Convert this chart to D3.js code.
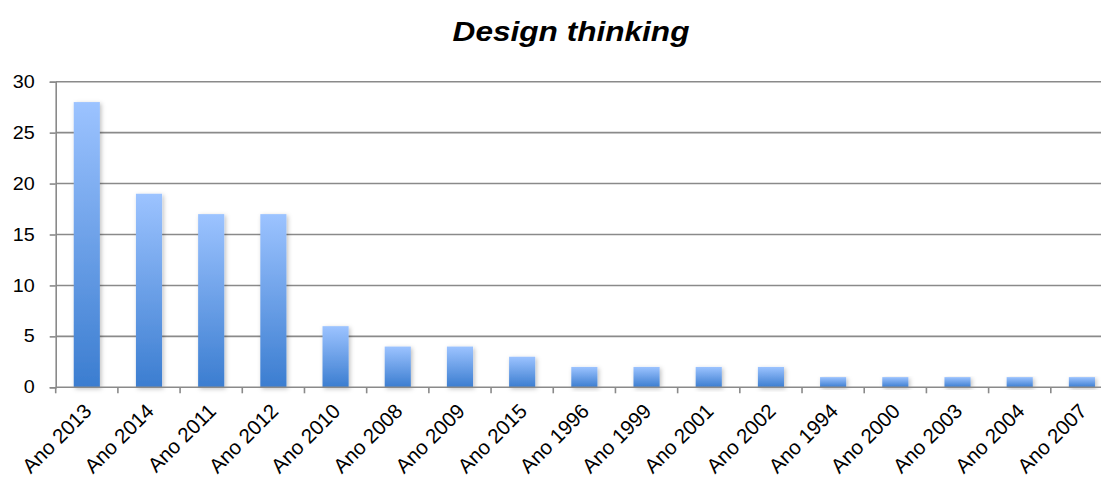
<!DOCTYPE html>
<html>
<head>
<meta charset="utf-8">
<script src="https://cdn.jsdelivr.net/npm/d3@7"></script>
<style>
  html, body { margin: 0; padding: 0; background: #fff; }
  svg { display: block; font-family: "Liberation Sans", Arial, sans-serif; }
</style>
</head>
<body>
<svg id="chart" width="1101" height="480"></svg>
<script>
// Publications per year on "Design thinking"
const categories = ["Ano 2013", "Ano 2014", "Ano 2011", "Ano 2012", "Ano 2010", "Ano 2008", "Ano 2009", "Ano 2015",
  "Ano 1996", "Ano 1999", "Ano 2001", "Ano 2002", "Ano 1994", "Ano 2000", "Ano 2003", "Ano 2004", "Ano 2007"];
const values = [28, 19, 17, 17, 6, 4, 4, 3, 2, 2, 2, 2, 1, 1, 1, 1, 1];
const yTicks = [0, 5, 10, 15, 20, 25, 30];
const title = "Design thinking";

const svg = d3.select("#chart");
const plot = { left: 55.7, right: 1113, top: 81.7, bottom: 387.3 };
const textStretch = 1.13; // text glyphs are drawn slightly wide

const x = d3.scaleBand().domain(categories).range([plot.left, plot.right]).paddingInner(0.58).paddingOuter(0.29);
const xTick = d3.scaleBand().domain(categories).range([plot.left, plot.right]);
const y = d3.scaleLinear().domain([0, 30]).range([plot.bottom, plot.top]);

const defs = svg.append("defs");
const grad = defs.append("linearGradient").attr("id", "barFill")
  .attr("x1", 0).attr("y1", 0).attr("x2", 0).attr("y2", 1);
grad.append("stop").attr("offset", "0%").attr("stop-color", "#9cc3ff");
grad.append("stop").attr("offset", "100%").attr("stop-color", "#3b7dd0");

const shadow = defs.append("filter").attr("id", "barShadow")
  .attr("x", "-30%").attr("y", "-10%").attr("width", "160%").attr("height", "130%");
shadow.append("feDropShadow").attr("dx", 1.5).attr("dy", 1.5).attr("stdDeviation", 2)
  .attr("flood-color", "#000").attr("flood-opacity", 0.25);

// Title
svg.append("text").attr("transform", "translate(571,41) scale(1.17,1)").attr("text-anchor", "middle")
  .attr("font-size", 27).attr("font-weight", "bold").attr("font-style", "italic")
  .attr("fill", "#000").text(title);

// Horizontal gridlines
svg.append("g").selectAll("line").data(yTicks.filter(d => d > 0)).join("line")
  .attr("x1", plot.left).attr("x2", 1101)
  .attr("y1", d => y(d)).attr("y2", d => y(d))
  .attr("stroke", "#8a8a8a").attr("stroke-width", 1.6);

// Bars
svg.append("g").selectAll("rect").data(values).join("rect")
  .attr("x", (d, i) => x(categories[i]))
  .attr("y", d => y(d))
  .attr("width", x.bandwidth())
  .attr("height", d => y(0) - y(d))
  .attr("fill", "url(#barFill)")
  .attr("filter", "url(#barShadow)");

// Y axis
const yAxis = svg.append("g").attr("transform", `translate(${plot.left},0)`)
  .call(d3.axisLeft(y).tickValues(yTicks).tickSize(6).tickPadding(12.5));
yAxis.select(".domain").attr("stroke", "#8a8a8a").attr("stroke-width", 1.6);
yAxis.selectAll(".tick line").attr("stroke", "#8a8a8a").attr("stroke-width", 1.6);
yAxis.selectAll(".tick text").attr("font-size", 17.5).attr("fill", "#000")
  .attr("font-family", "Liberation Sans, Arial, sans-serif")
  .attr("transform", `scale(${textStretch},1)`);

// X axis baseline and category boundary ticks
svg.append("line").attr("x1", plot.left).attr("x2", 1101).attr("y1", y(0)).attr("y2", y(0))
  .attr("stroke", "#8a8a8a").attr("stroke-width", 1.6);
const bounds = categories.map(c => xTick(c));
svg.append("g").selectAll("line").data(bounds).join("line")
  .attr("x1", d => d).attr("x2", d => d)
  .attr("y1", y(0)).attr("y2", y(0) + 6)
  .attr("stroke", "#8a8a8a").attr("stroke-width", 1.6);

// Category labels
svg.append("g").selectAll("text").data(categories).join("text")
  .attr("transform", d => `translate(${xTick(d) + xTick.bandwidth() / 2 + 1},${y(0) + 20}) rotate(-45)`)
  .attr("text-anchor", "end")
  .attr("font-size", 20.5).attr("fill", "#000")
  .attr("dy", "0.35em")
  .text(d => d);
</script>
</body>
</html>
